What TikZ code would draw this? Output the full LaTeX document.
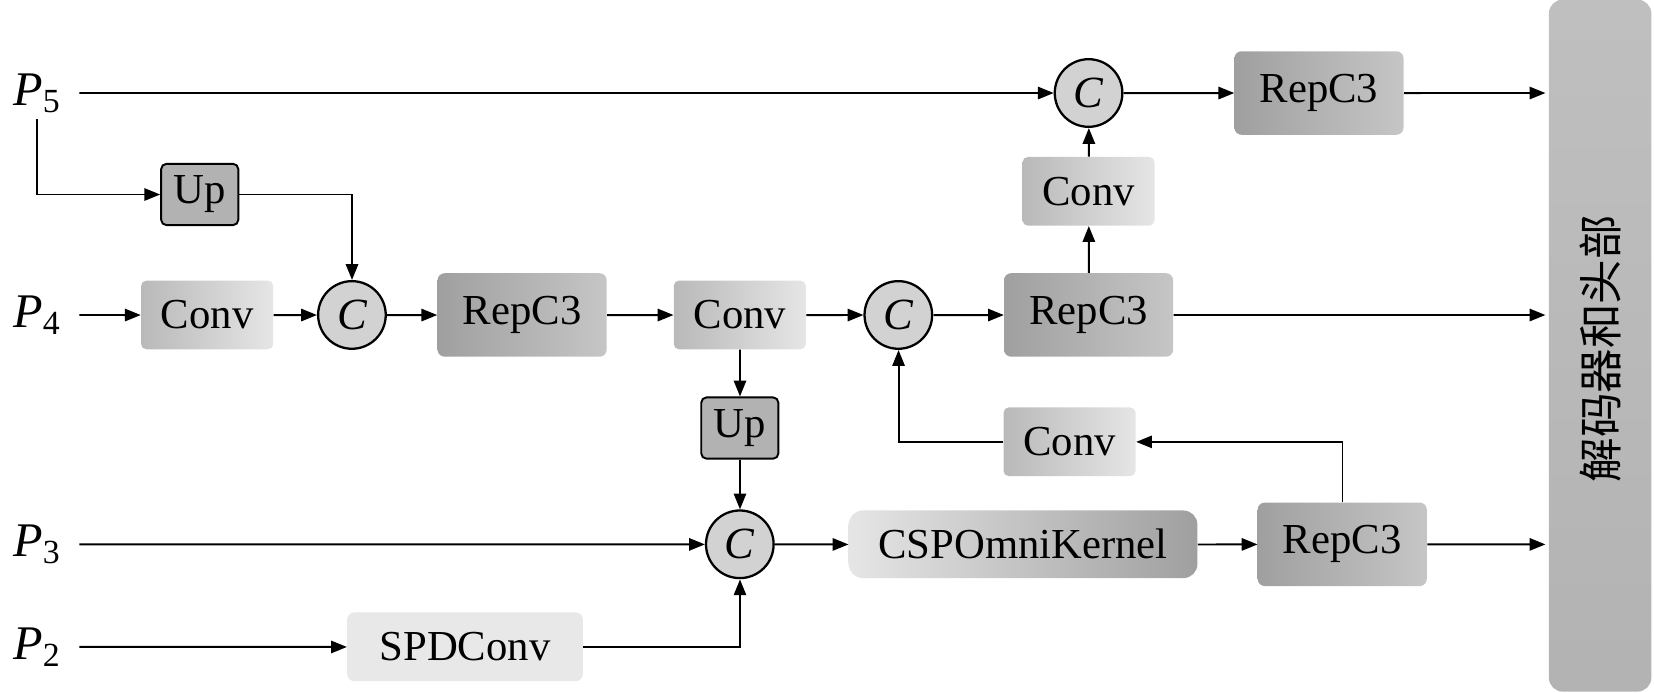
\documentclass[tikz,border=0pt]{standalone}
\usepackage{fontspec}
\setmainfont{Liberation Serif}
\newfontfamily\cjk{Noto Sans CJK SC}
\usetikzlibrary{arrows.meta}
\begin{document}
\begin{tikzpicture}[x=0.02cm,y=-0.02cm,scale=1.0568,
  every node/.style={font=\fontsize{23}{27}\selectfont,transform shape},
  arr/.style={-{Triangle[length=9pt,width=7pt]},line width=1.1pt},
  conv/.style={rounded corners=3pt,left color=gray!55,right color=gray!20,minimum width=2.5cm,minimum height=1.3cm,inner sep=0},
  rep/.style={rounded corners=4pt,left color=gray!75,right color=gray!45,minimum width=3.2cm,minimum height=1.58cm,inner sep=0},
  up/.style={rounded corners=3pt,fill=gray!60,draw=black,line width=1.1pt,minimum width=1.46cm,minimum height=1.16cm,inner sep=0},
  cat/.style={circle,fill=gray!35,draw=black,line width=1.3pt,minimum size=1.28cm,inner sep=0,font=\fontsize{24}{26}\selectfont\itshape},
  plab/.style={font=\fontsize{26}{30}\selectfont\itshape}]
\useasboundingbox (0,0) rectangle (1565,655);
% decoder bar
\node[rounded corners=8pt,top color=gray!50,bottom color=gray!60,minimum width=1.94cm,minimum height=13.1cm,inner sep=0] (dec) at (1514,327) {};
\node[rotate=90,font=\fontsize{24}{28}\cjk] (dect) at (1514,330) {解码器和头部};
\coordinate (d5) at (1462,88); \coordinate (d4) at (1462,298); \coordinate (d3) at (1462,515);
% labels
\node[plab] (p5) at (35,88) {P\textsubscript{\upshape 5}};
\node[plab] (p4) at (35,298) {P\textsubscript{\upshape 4}};
\node[plab] (p3) at (35,515) {P\textsubscript{\upshape 3}};
\node[plab] (p2) at (35,612) {P\textsubscript{\upshape 2}};
\coordinate (s5) at (75,88); \coordinate (s4) at (75,298); \coordinate (s3) at (75,515); \coordinate (s2) at (75,612);
% nodes
\node[cat] (c5) at (1030,88) {C};
\node[rep] (r5) at (1248,88) {RepC3};
\node[conv] (cv5) at (1030,181) {Conv};
\node[up] (up1) at (189,184) {Up};
\node[conv] (cv4a) at (196,298) {Conv};
\node[cat] (c4a) at (333,298) {C};
\node[rep] (r4a) at (494,298) {RepC3};
\node[conv] (cv4b) at (700,298) {Conv};
\node[cat] (c4b) at (850,298) {C};
\node[rep] (r4b) at (1030,298) {RepC3};
\node[up] (up2) at (700,405) {Up};
\node[conv] (cv3) at (1012,418) {Conv};
\node[cat] (c3) at (700,515) {C};
\node[rounded corners=8pt,left color=gray!20,right color=gray!75,minimum width=6.6cm,minimum height=1.28cm,inner sep=0] (csp) at (968,515) {CSPOmniKernel};
\node[rep] (r3) at (1270,515) {RepC3};
\node[rounded corners=4pt,fill=gray!18,minimum width=4.46cm,minimum height=1.3cm,inner sep=0] (spd) at (440,612) {SPDConv};
% connectors
\draw[arr] (s5) -- (c5);
\draw[arr] (c5) -- (r5);
\draw[arr] (r5) -- (d5);
\draw[arr] (cv5) -- (c5);
\draw[arr] (r4b) -- (cv5);
\draw[arr] (p5.south) |- (up1);
\draw[arr] (up1) -| (c4a);
\draw[arr] (s4) -- (cv4a);
\draw[arr] (cv4a) -- (c4a);
\draw[arr] (c4a) -- (r4a);
\draw[arr] (r4a) -- (cv4b);
\draw[arr] (cv4b) -- (c4b);
\draw[arr] (c4b) -- (r4b);
\draw[arr] (r4b) -- (d4);
\draw[arr] (cv4b) -- (up2);
\draw[arr] (up2) -- (c3);
\draw[arr] (s3) -- (c3);
\draw[arr] (s2) -- (spd);
\draw[arr] (spd) -| (c3);
\draw[arr] (c3) -- (csp);
\draw[arr] (csp) -- (r3);
\draw[arr] (r3) -- (d3);
\draw[arr] (r3.north) |- (cv3);
\draw[arr] (cv3) -| (c4b);
\end{tikzpicture}
\end{document}
